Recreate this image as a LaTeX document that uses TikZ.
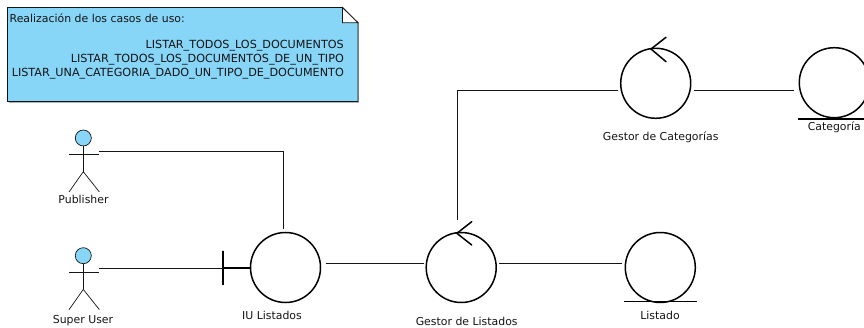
\documentclass[tikz,border=0pt]{standalone}
\usepackage{fontspec}
\setmainfont{DejaVu Sans}
\definecolor{fillblue}{RGB}{135,214,248}
\definecolor{inkc}{RGB}{20,20,20}
\tikzset{
  x=1pt,y=-1pt,
  every node/.style={font=\fontsize{10.9}{13.5}\selectfont,text=inkc},
  robust/.style={circle,draw=black,line width=1.5pt,minimum size=70pt,inner sep=0pt,outer sep=3.5pt},
  conn/.style={draw=inkc,line width=0.9pt},
  figline/.style={draw=inkc,line width=0.7pt},
  heavy/.style={draw=black,line width=1.5pt},
  anchorbox/.style={inner sep=0pt,outer sep=0pt,minimum height=0pt},
  lbl/.style={inner sep=0pt,anchor=center},
  notecaps/.style={lbl,anchor=east,font=\fontsize{11.2}{13.5}\selectfont},
}
\newcommand{\actorfig}[2]{% x, y of the arm-connector level
  \draw[figline,fill=fillblue] (#1-0.9,#2-13) circle (8);
  \draw[figline] (#1-15.2,#2+3.7) -- (#1+15.2,#2+3.7);
  \draw[figline] (#1-0.9,#2-5) -- (#1-0.9,#2+20.7);
  \draw[figline] (#1-15.2,#2+41) -- (#1-0.9,#2+20.7) -- (#1+15.2,#2+41);
}
\begin{document}
\begin{tikzpicture}
\useasboundingbox (0,0) rectangle (864,328);
% note
\draw[draw=black!30,line width=0.8pt] (8.5,102.3) -- (358.8,102.3) -- (358.8,23.5);
\draw[draw=inkc,line width=0.8pt,fill=fillblue] (7.5,7.5) -- (342.5,7.5) -- (358,22.8) -- (358,101.5) -- (7.5,101.5) -- cycle;
\draw[draw=inkc,line width=0.8pt,fill=white] (342.5,7.5) -- (342.5,22.8) -- (358,22.8) -- cycle;
\node[lbl,anchor=west] (notehead) at (9.5,18) {Realización de los casos de uso:};
\node[notecaps] (note1) at (344,46) {LISTAR\_TODOS\_LOS\_DOCUMENTOS};
\node[notecaps] (note2) at (344,59.5) {LISTAR\_TODOS\_LOS\_DOCUMENTOS\_DE\_UN\_TIPO};
\node[notecaps] (note3) at (344,73.5) {LISTAR\_UNA\_CATEGORIA\_DADO\_UN\_TIPO\_DE\_DOCUMENTO};
% robustness shapes
\node[robust] (iu) at (285.5,267.5) {};
\node[robust] (gl) at (461.2,267.5) {};
\node[robust] (li) at (660.3,267.5) {};
\node[robust] (gc) at (655.7,83.3) {};
\node[robust] (ca) at (834.3,82.7) {};
% boundary bar
\node[anchorbox,minimum width=0pt,minimum height=34pt,draw=black,line width=2pt] (bar) at (223,268) {};
\draw[black,line width=2.4pt] (bar.center) -- ([xshift=3.5pt]iu.west |- bar.center);
% control arrows
\draw[heavy,line cap=round] (471.7,221.7) -- (456.9,233.3) -- (471.7,245);
\draw[heavy,line cap=round] (666,37.3) -- (651,49) -- (666,61.7);
% entity bars
\draw[black,line width=1pt] (624,302) -- (696.7,302);
\draw[black,line width=2pt] (798,118.7) -- (864,118.7);
% actors
\node[anchorbox,minimum width=30.4pt] (pub) at (84.2,151) {};
\node[anchorbox,minimum width=30.4pt] (sup) at (84.2,268.7) {};
\actorfig{84.2}{151}
\actorfig{84.2}{268.7}
% connectors
\coordinate (glup) at (457,220.5);
\draw[conn] (pub.east) -| (iu.93);
\draw[conn] (sup.east) -- (bar.center |- sup.east);
\draw[conn,shorten <=2pt,shorten >=-1pt] (iu.6) -- (gl.174);
\draw[conn] (gl.6) -- (li.174);
\draw[conn] (glup) |- (gc.190);
\draw[conn,shorten >=2.5pt] (gc.-10) -- (ca.190 |- gc.-10);
% labels
\node[lbl] (lpub) at (83.5,199) {Publisher};
\node[lbl] (lsup) at (83,321) {Super User};
\node[lbl] (liu) at (272,315) {IU Listados};
\node[lbl] (lgl) at (466.7,321.5) {Gestor de Listados};
\node[lbl] (lli) at (660,315) {Listado};
\node[lbl] (lgc) at (660.7,137) {Gestor de Categorías};
\node[lbl] (lca) at (834.3,127.2) {Categoría};
\end{tikzpicture}
\end{document}
